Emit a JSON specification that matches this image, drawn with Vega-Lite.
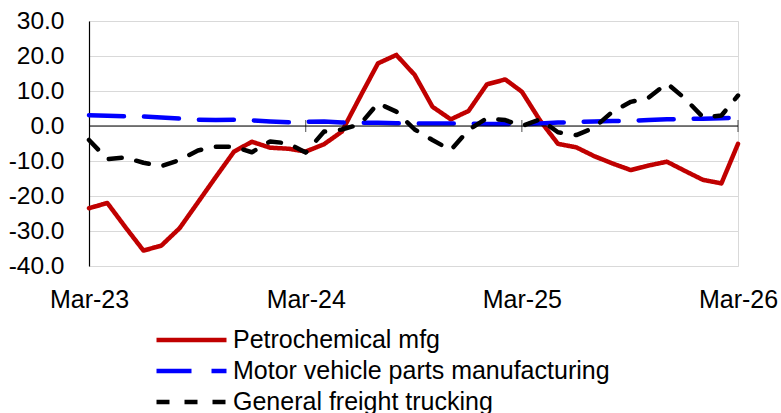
{
  "$schema": "https://vega.github.io/schema/vega-lite/v6.json",
  "autosize": "none",
  "width": 649,
  "height": 245,
  "padding": {"left": 89, "top": 21, "right": 43, "bottom": 147},
  "config": {
    "view": {"stroke": "#d9d9d9", "strokeWidth": 1},
    "font": "Liberation Sans",
    "axis": {"labelFont": "Liberation Sans", "labelFontSize": 24.5, "labelColor": "#000000"}
  },
  "datasets": {
    "series": [
      {"date": "2023-03-01", "series": "Petrochemical mfg", "value": -23.5},
      {"date": "2023-04-01", "series": "Petrochemical mfg", "value": -22.0},
      {"date": "2023-05-01", "series": "Petrochemical mfg", "value": -28.8},
      {"date": "2023-06-01", "series": "Petrochemical mfg", "value": -35.6},
      {"date": "2023-07-01", "series": "Petrochemical mfg", "value": -34.2},
      {"date": "2023-08-01", "series": "Petrochemical mfg", "value": -29.2},
      {"date": "2023-09-01", "series": "Petrochemical mfg", "value": -21.8},
      {"date": "2023-10-01", "series": "Petrochemical mfg", "value": -14.6},
      {"date": "2023-11-01", "series": "Petrochemical mfg", "value": -7.3},
      {"date": "2023-12-01", "series": "Petrochemical mfg", "value": -4.5},
      {"date": "2024-01-01", "series": "Petrochemical mfg", "value": -6.2},
      {"date": "2024-02-01", "series": "Petrochemical mfg", "value": -6.5},
      {"date": "2024-03-01", "series": "Petrochemical mfg", "value": -7.3},
      {"date": "2024-04-01", "series": "Petrochemical mfg", "value": -5.2},
      {"date": "2024-05-01", "series": "Petrochemical mfg", "value": -1.6},
      {"date": "2024-06-01", "series": "Petrochemical mfg", "value": 8.4},
      {"date": "2024-07-01", "series": "Petrochemical mfg", "value": 17.9},
      {"date": "2024-08-01", "series": "Petrochemical mfg", "value": 20.3},
      {"date": "2024-09-01", "series": "Petrochemical mfg", "value": 14.6},
      {"date": "2024-10-01", "series": "Petrochemical mfg", "value": 5.5},
      {"date": "2024-11-01", "series": "Petrochemical mfg", "value": 1.9},
      {"date": "2024-12-01", "series": "Petrochemical mfg", "value": 4.3},
      {"date": "2025-01-01", "series": "Petrochemical mfg", "value": 11.9},
      {"date": "2025-02-01", "series": "Petrochemical mfg", "value": 13.3},
      {"date": "2025-03-01", "series": "Petrochemical mfg", "value": 9.8},
      {"date": "2025-04-01", "series": "Petrochemical mfg", "value": 1.5},
      {"date": "2025-05-01", "series": "Petrochemical mfg", "value": -5.1},
      {"date": "2025-06-01", "series": "Petrochemical mfg", "value": -6.1},
      {"date": "2025-07-01", "series": "Petrochemical mfg", "value": -8.6},
      {"date": "2025-08-01", "series": "Petrochemical mfg", "value": -10.7},
      {"date": "2025-09-01", "series": "Petrochemical mfg", "value": -12.6},
      {"date": "2025-10-01", "series": "Petrochemical mfg", "value": -11.3},
      {"date": "2025-11-01", "series": "Petrochemical mfg", "value": -10.2},
      {"date": "2025-12-01", "series": "Petrochemical mfg", "value": -12.8},
      {"date": "2026-01-01", "series": "Petrochemical mfg", "value": -15.4},
      {"date": "2026-02-01", "series": "Petrochemical mfg", "value": -16.4},
      {"date": "2026-03-01", "series": "Petrochemical mfg", "value": -5.1},

      {"date": "2023-03-01", "series": "Motor vehicle parts manufacturing", "value": 3.1},
      {"date": "2023-04-01", "series": "Motor vehicle parts manufacturing", "value": 2.9},
      {"date": "2023-05-01", "series": "Motor vehicle parts manufacturing", "value": 2.8},
      {"date": "2023-06-01", "series": "Motor vehicle parts manufacturing", "value": 2.7},
      {"date": "2023-07-01", "series": "Motor vehicle parts manufacturing", "value": 2.4},
      {"date": "2023-08-01", "series": "Motor vehicle parts manufacturing", "value": 2.1},
      {"date": "2023-09-01", "series": "Motor vehicle parts manufacturing", "value": 1.8},
      {"date": "2023-10-01", "series": "Motor vehicle parts manufacturing", "value": 1.7},
      {"date": "2023-11-01", "series": "Motor vehicle parts manufacturing", "value": 1.8},
      {"date": "2023-12-01", "series": "Motor vehicle parts manufacturing", "value": 1.6},
      {"date": "2024-01-01", "series": "Motor vehicle parts manufacturing", "value": 1.3},
      {"date": "2024-02-01", "series": "Motor vehicle parts manufacturing", "value": 1.1},
      {"date": "2024-03-01", "series": "Motor vehicle parts manufacturing", "value": 1.2},
      {"date": "2024-04-01", "series": "Motor vehicle parts manufacturing", "value": 1.3},
      {"date": "2024-05-01", "series": "Motor vehicle parts manufacturing", "value": 1.0},
      {"date": "2024-06-01", "series": "Motor vehicle parts manufacturing", "value": 0.9},
      {"date": "2024-07-01", "series": "Motor vehicle parts manufacturing", "value": 0.9},
      {"date": "2024-08-01", "series": "Motor vehicle parts manufacturing", "value": 0.8},
      {"date": "2024-09-01", "series": "Motor vehicle parts manufacturing", "value": 0.7},
      {"date": "2024-10-01", "series": "Motor vehicle parts manufacturing", "value": 0.7},
      {"date": "2024-11-01", "series": "Motor vehicle parts manufacturing", "value": 0.7},
      {"date": "2024-12-01", "series": "Motor vehicle parts manufacturing", "value": 0.7},
      {"date": "2025-01-01", "series": "Motor vehicle parts manufacturing", "value": 0.6},
      {"date": "2025-02-01", "series": "Motor vehicle parts manufacturing", "value": 0.6},
      {"date": "2025-03-01", "series": "Motor vehicle parts manufacturing", "value": 0.5},
      {"date": "2025-04-01", "series": "Motor vehicle parts manufacturing", "value": 0.7},
      {"date": "2025-05-01", "series": "Motor vehicle parts manufacturing", "value": 1.0},
      {"date": "2025-06-01", "series": "Motor vehicle parts manufacturing", "value": 1.1},
      {"date": "2025-07-01", "series": "Motor vehicle parts manufacturing", "value": 1.3},
      {"date": "2025-08-01", "series": "Motor vehicle parts manufacturing", "value": 1.4},
      {"date": "2025-09-01", "series": "Motor vehicle parts manufacturing", "value": 1.5},
      {"date": "2025-10-01", "series": "Motor vehicle parts manufacturing", "value": 1.7},
      {"date": "2025-11-01", "series": "Motor vehicle parts manufacturing", "value": 1.9},
      {"date": "2025-12-01", "series": "Motor vehicle parts manufacturing", "value": 2.0},
      {"date": "2026-01-01", "series": "Motor vehicle parts manufacturing", "value": 2.1},
      {"date": "2026-02-01", "series": "Motor vehicle parts manufacturing", "value": 2.2},
      {"date": "2026-03-01", "series": "Motor vehicle parts manufacturing", "value": 2.4},

      {"date": "2023-03-01", "series": "General freight trucking", "value": -4.0},
      {"date": "2023-04-01", "series": "General freight trucking", "value": -9.5},
      {"date": "2023-05-01", "series": "General freight trucking", "value": -9.0},
      {"date": "2023-06-01", "series": "General freight trucking", "value": -10.5},
      {"date": "2023-07-01", "series": "General freight trucking", "value": -11.5},
      {"date": "2023-08-01", "series": "General freight trucking", "value": -9.7},
      {"date": "2023-09-01", "series": "General freight trucking", "value": -7.0},
      {"date": "2023-10-01", "series": "General freight trucking", "value": -5.9},
      {"date": "2023-11-01", "series": "General freight trucking", "value": -5.9},
      {"date": "2023-12-01", "series": "General freight trucking", "value": -7.5},
      {"date": "2024-01-01", "series": "General freight trucking", "value": -4.4},
      {"date": "2024-02-01", "series": "General freight trucking", "value": -5.0},
      {"date": "2024-03-01", "series": "General freight trucking", "value": -7.6},
      {"date": "2024-04-01", "series": "General freight trucking", "value": -1.6},
      {"date": "2024-05-01", "series": "General freight trucking", "value": -1.0},
      {"date": "2024-06-01", "series": "General freight trucking", "value": 0.5},
      {"date": "2024-07-01", "series": "General freight trucking", "value": 6.5},
      {"date": "2024-08-01", "series": "General freight trucking", "value": 4.1},
      {"date": "2024-09-01", "series": "General freight trucking", "value": -1.0},
      {"date": "2024-10-01", "series": "General freight trucking", "value": -4.0},
      {"date": "2024-11-01", "series": "General freight trucking", "value": -6.9},
      {"date": "2024-12-01", "series": "General freight trucking", "value": -1.1},
      {"date": "2025-01-01", "series": "General freight trucking", "value": 2.2},
      {"date": "2025-02-01", "series": "General freight trucking", "value": 1.7},
      {"date": "2025-03-01", "series": "General freight trucking", "value": 0.0},
      {"date": "2025-04-01", "series": "General freight trucking", "value": 1.9},
      {"date": "2025-05-01", "series": "General freight trucking", "value": -1.8},
      {"date": "2025-06-01", "series": "General freight trucking", "value": -2.6},
      {"date": "2025-07-01", "series": "General freight trucking", "value": -0.5},
      {"date": "2025-08-01", "series": "General freight trucking", "value": 4.1},
      {"date": "2025-09-01", "series": "General freight trucking", "value": 6.9},
      {"date": "2025-10-01", "series": "General freight trucking", "value": 8.1},
      {"date": "2025-11-01", "series": "General freight trucking", "value": 12.2},
      {"date": "2025-12-01", "series": "General freight trucking", "value": 7.9},
      {"date": "2026-01-01", "series": "General freight trucking", "value": 2.5},
      {"date": "2026-02-01", "series": "General freight trucking", "value": 3.0},
      {"date": "2026-03-01", "series": "General freight trucking", "value": 8.7}
    ],
    "zero": [{"value": 0}],
    "yearTicks": [
      {"date": "2024-03-01", "value": 0},
      {"date": "2025-03-01", "value": 0},
      {"date": "2026-03-01", "value": 0}
    ]
  },
  "layer": [
    {
      "data": {"name": "series"},
      "mark": {"type": "line", "strokeWidth": 4.5, "strokeCap": "round", "strokeJoin": "round", "clip": false},
      "encoding": {
        "x": {
          "field": "date",
          "type": "temporal",
          "scale": {
            "type": "utc",
            "domain": [
              {"year": 2023, "month": 3, "date": 1, "utc": true},
              {"year": 2026, "month": 3, "date": 1, "utc": true}
            ],
            "nice": false
          },
          "axis": {
            "title": null,
            "format": "%b-%y",
            "values": [
              {"year": 2023, "month": 3, "date": 1, "utc": true},
              {"year": 2024, "month": 3, "date": 1, "utc": true},
              {"year": 2025, "month": 3, "date": 1, "utc": true},
              {"year": 2026, "month": 3, "date": 1, "utc": true}
            ],
            "grid": false,
            "ticks": false,
            "domain": false,
            "labelFontSize": 25,
            "labelPadding": 21,
            "labelFlush": false,
            "labelOverlap": false
          }
        },
        "y": {
          "field": "value",
          "type": "quantitative",
          "scale": {"domain": [-40, 30], "nice": false},
          "axis": {
            "title": null,
            "values": [-40, -30, -20, -10, 0, 10, 20, 30],
            "labelExpr": "replace(format(datum.value, '.1f'), '\u2212', '-')",
            "labelOverlap": false,
            "labelFlush": false,
            "grid": true,
            "gridColor": "#d9d9d9",
            "gridWidth": 1.2,
            "ticks": false,
            "domain": true,
            "domainColor": "#000000",
            "domainWidth": 1.2,
            "labelPadding": 25
          }
        },
        "color": {
          "field": "series",
          "type": "nominal",
          "sort": ["Petrochemical mfg", "Motor vehicle parts manufacturing", "General freight trucking"],
          "scale": {
            "domain": ["Petrochemical mfg", "Motor vehicle parts manufacturing", "General freight trucking"],
            "range": ["#c00000", "#0000ff", "#000000"]
          },
          "legend": {
            "title": null,
            "orient": "none",
            "legendX": 65,
            "legendY": 307,
            "symbolType": "stroke",
            "symbolSize": 4900,
            "symbolStrokeWidth": 4.5,
            "clipHeight": 24,
            "labelFontSize": 25,
            "labelFont": "Liberation Sans",
            "labelColor": "#000000",
            "labelOffset": 4,
            "rowPadding": 6,
            "labelLimit": 600
          }
        },
        "strokeDash": {
          "field": "series",
          "type": "nominal",
          "sort": ["Petrochemical mfg", "Motor vehicle parts manufacturing", "General freight trucking"],
          "scale": {
            "domain": ["Petrochemical mfg", "Motor vehicle parts manufacturing", "General freight trucking"],
            "range": [[1, 0], [35, 20], [13, 15]]
          },
          "legend": null
        }
      }
    },
    {
      "data": {"name": "zero"},
      "mark": {"type": "rule", "color": "#000000", "strokeWidth": 1.2},
      "encoding": {
        "y": {
          "field": "value",
          "type": "quantitative",
          "axis": {
            "title": null,
            "values": [-40, -30, -20, -10, 0, 10, 20, 30],
            "labelExpr": "replace(format(datum.value, '.1f'), '\u2212', '-')",
            "labelOverlap": false,
            "labelFlush": false,
            "grid": true,
            "gridColor": "#d9d9d9",
            "gridWidth": 1.2,
            "ticks": false,
            "domain": true,
            "domainColor": "#000000",
            "domainWidth": 1.2,
            "labelPadding": 25
          }
        }
      }
    },
    {
      "data": {"name": "yearTicks"},
      "mark": {"type": "tick", "orient": "vertical", "color": "#000000", "thickness": 1, "size": 12},
      "encoding": {
        "x": {
          "field": "date",
          "type": "temporal",
          "axis": {
            "title": null,
            "format": "%b-%y",
            "values": [
              {"year": 2023, "month": 3, "date": 1, "utc": true},
              {"year": 2024, "month": 3, "date": 1, "utc": true},
              {"year": 2025, "month": 3, "date": 1, "utc": true},
              {"year": 2026, "month": 3, "date": 1, "utc": true}
            ],
            "grid": false,
            "ticks": false,
            "domain": false,
            "labelFontSize": 25,
            "labelPadding": 21,
            "labelFlush": false,
            "labelOverlap": false
          }
        },
        "y": {
          "field": "value",
          "type": "quantitative",
          "axis": {
            "title": null,
            "values": [-40, -30, -20, -10, 0, 10, 20, 30],
            "labelExpr": "replace(format(datum.value, '.1f'), '\u2212', '-')",
            "labelOverlap": false,
            "labelFlush": false,
            "grid": true,
            "gridColor": "#d9d9d9",
            "gridWidth": 1.2,
            "ticks": false,
            "domain": true,
            "domainColor": "#000000",
            "domainWidth": 1.2,
            "labelPadding": 25
          }
        }
      }
    }
  ]
}
